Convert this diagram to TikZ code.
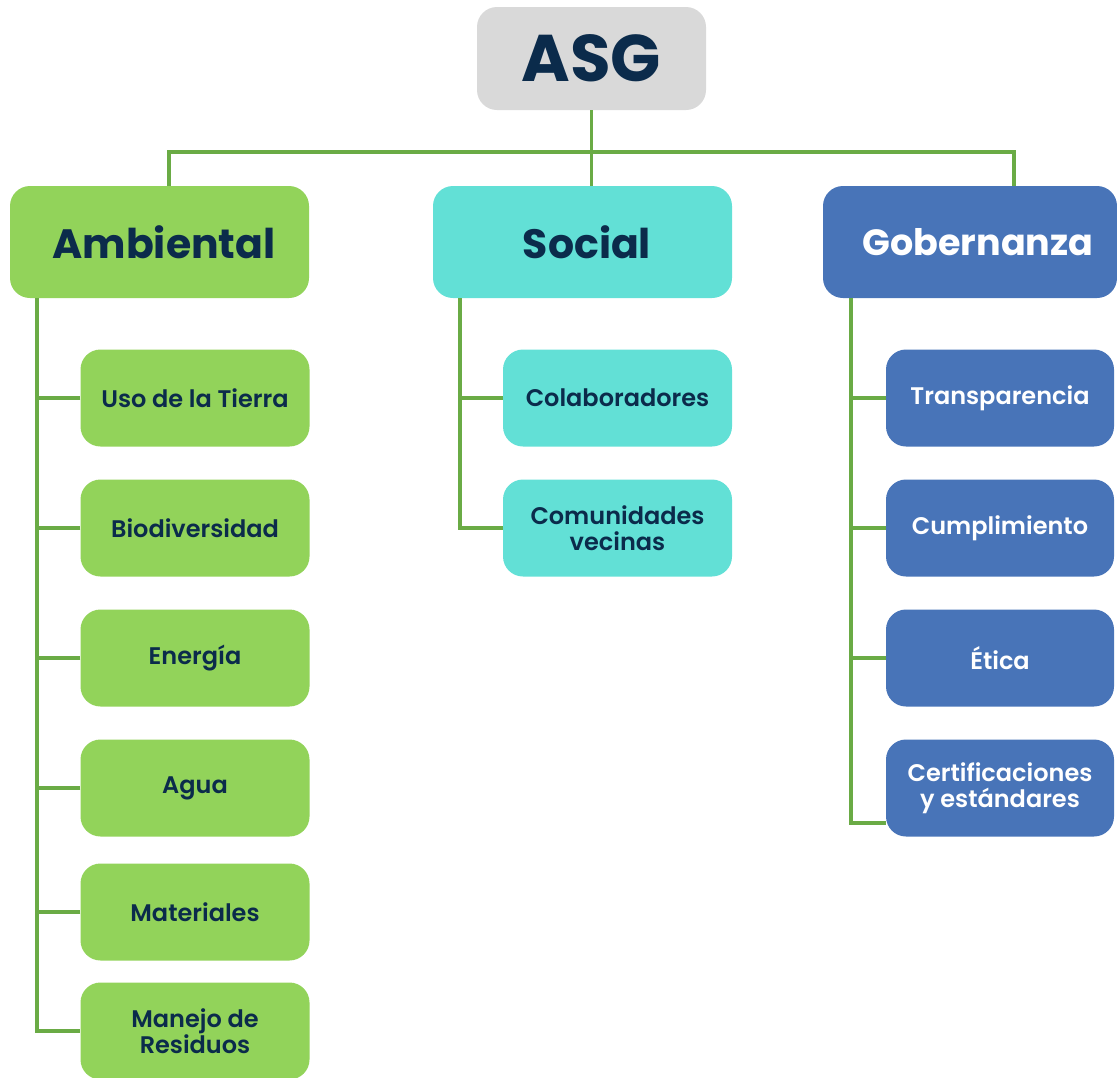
\documentclass[tikz,border=0pt]{standalone}
\usepackage{fontspec}
\setmainfont{Poppins}
\newfontfamily\semib{Poppins SemiBold}
\definecolor{navy}{HTML}{0B2B4B}
\definecolor{lgreen}{HTML}{92D35A}
\definecolor{cyanb}{HTML}{62E0D6}
\definecolor{blueb}{HTML}{4874B8}
\definecolor{grayb}{HTML}{D9D9D9}
\definecolor{linegreen}{HTML}{6AAB45}
\begin{document}
\begin{tikzpicture}[x=1pt,y=-1pt,
  box/.style={rounded corners=20pt, inner sep=0pt, align=center, font=\semib\fontsize{24}{26}\selectfont},
  head/.style={box, minimum width=299pt, minimum height=112pt, font=\bfseries\fontsize{41}{44}\selectfont},
  sub/.style={box, minimum width=229pt, minimum height=97pt},
  gsub/.style={sub, fill=lgreen, text=navy},
  csub/.style={sub, fill=cyanb, text=navy},
  bsub/.style={sub, fill=blueb, text=white, minimum width=228pt},
  conn/.style={draw=linegreen, line width=3.5pt}
]
\useasboundingbox (0,0) rectangle (1117,1077);
% top
\node[box, fill=grayb, text=navy, minimum width=229pt, minimum height=103pt, font=\bfseries\fontsize{66}{70}\selectfont] (asg) at (591.5,58.5) {ASG};
\node[head, fill=lgreen, text=navy] (amb) at (159.5,242) {\hspace{9pt}Ambiental};
\node[head, fill=cyanb, text=navy] (soc) at (582.5,242) {\hspace{9pt}Social};
\node[head, fill=blueb, text=white, minimum width=294pt, font=\bfseries\fontsize{36.5}{40}\selectfont] (gob) at (970,242) {\hspace{16pt}Gobernanza};
% ambiental subs
\node[gsub] (a1) at (195,398) {\raisebox{-2pt}{Uso de la Tierra}};
\node[gsub] (a2) at (195,528) {Biodiversidad};
\node[gsub] (a3) at (195,658) {\raisebox{-2pt}{Energía}};
\node[gsub] (a4) at (195,788) {Agua};
\node[gsub] (a5) at (195,912) {Materiales};
\node[gsub] (a6) at (195,1031) {Manejo de\\Residuos};
% social subs
\node[csub] (s1) at (617.5,398) {\raisebox{-2pt}{Colaboradores}};
\node[csub] (s2) at (617.5,528) {Comunidades\\vecinas};
% gobernanza subs
\node[bsub] (g1) at (1000,398) {\raisebox{-2pt}{Transparencia}};
\node[bsub] (g2) at (1000,528) {\raisebox{-2pt}{Cumplimiento}};
\node[bsub] (g3) at (1000,658) {Ética};
\node[bsub] (g4) at (1000,788) {Certificaciones\\y estándares};
% top connectors
\coordinate (bL) at (169,152);
\coordinate (bR) at (1014,152);
\draw[conn] (amb.north -| bL) -- (bL) -- (bR) -- (gob.north -| bR);
\draw[conn] (asg.south) -- (soc.north -| asg.south);
% ambiental trunk
\coordinate (tA) at (37,298);
\draw[conn] (tA) |- (a6.west);
\foreach \n in {a1,a2,a3,a4,a5} \draw[conn] (\n.west) -- (\n.west -| tA);
% social trunk
\coordinate (tS) at (460,298);
\draw[conn] (tS) |- (s2.west);
\draw[conn] (s1.west) -- (s1.west -| tS);
% gobernanza trunk
\coordinate (tG) at (851,298);
\coordinate (g4c) at (886,823);
\draw[conn] (tG) |- (g4c);
\foreach \n in {g1,g2,g3} \draw[conn] (\n.west) -- (\n.west -| tG);
\end{tikzpicture}
\end{document}
